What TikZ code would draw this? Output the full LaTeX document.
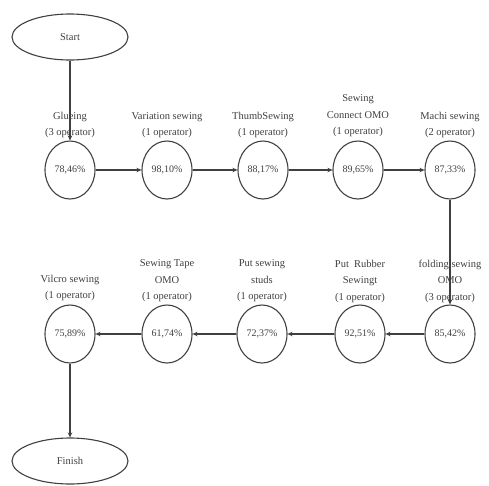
\documentclass[tikz,border=0pt]{standalone}
\usepackage{fontspec}
\setmainfont{Liberation Serif}
\usetikzlibrary{shapes.geometric,arrows.meta}
\begin{document}
\begin{tikzpicture}[x=1pt,y=-1pt,
  lineclr/.style={draw=black!75, line width=1.1pt},
  term/.style={ellipse, lineclr, minimum width=116pt, minimum height=46pt, inner sep=0pt, font=\fontsize{10.5}{12}\selectfont, text=black!75},
  proc/.style={ellipse, lineclr, minimum width=50pt, minimum height=58pt, inner sep=0pt, font=\fontsize{10}{12}\selectfont, text=black!75},
  lbl/.style={align=center, inner sep=0pt, font=\fontsize{10.5}{16.5}\selectfont, text=black!75},
  flow/.style={lineclr, -{Stealth[length=5pt,width=4.5pt]}}
]
\useasboundingbox (0,0) rectangle (489,485);

\node[term] (start) at (70,37) {Start};
\node[term] (finish) at (70,461) {Finish};

% top row
\node[proc] (g1) at (70,170) {78,46\%};
\node[proc] (g2) at (167,170) {98,10\%};
\node[proc] (g3) at (263,170) {88,17\%};
\node[proc] (g4) at (358,170) {89,65\%};
\node[proc] (g5) at (450,170) {87,33\%};

\node[lbl] (l1) at (70,125) {Glueing\\(3 operator)};
\node[lbl] (l2) at (167,125) {Variation sewing\\(1 operator)};
\node[lbl] (l3) at (263,125) {ThumbSewing\\(1 operator)};
\node[lbl] (l4) at (358,116) {Sewing\\Connect OMO\\(1 operator)};
\node[lbl] (l5) at (450,125) {Machi sewing\\(2 operator)};

% bottom row
\node[proc] (b1) at (70,334) {75,89\%};
\node[proc] (b2) at (167,334) {61,74\%};
\node[proc] (b3) at (262,334) {72,37\%};
\node[proc] (b4) at (360,334) {92,51\%};
\node[proc] (b5) at (450,334) {85,42\%};

\node[lbl] (m1) at (70,288) {Vilcro sewing\\(1 operator)};
\node[lbl] (m2) at (167,281) {Sewing Tape\\OMO\\(1 operator)};
\node[lbl] (m3) at (262,281) {Put sewing\\studs\\(1 operator)};
\node[lbl] (m4) at (360,281) {Put\ \ Rubber\\Sewingt\\(1 operator)};
\node[lbl] (m5) at (450,281) {folding sewing\\OMO\\(3 operator)};

% connectors
\draw[flow] (start.south) -- (g1.north);
\draw[flow] (g1.east) -- (g2.west);
\draw[flow] (g2.east) -- (g3.west);
\draw[flow] (g3.east) -- (g4.west);
\draw[flow] (g4.east) -- (g5.west);
\draw[flow] (g5.south) -- (b5.north);
\draw[flow] (b5.west) -- (b4.east);
\draw[flow] (b4.west) -- (b3.east);
\draw[flow] (b3.west) -- (b2.east);
\draw[flow] (b2.west) -- (b1.east);
\draw[flow] (b1.south) -- (finish.north);
\end{tikzpicture}
\end{document}
